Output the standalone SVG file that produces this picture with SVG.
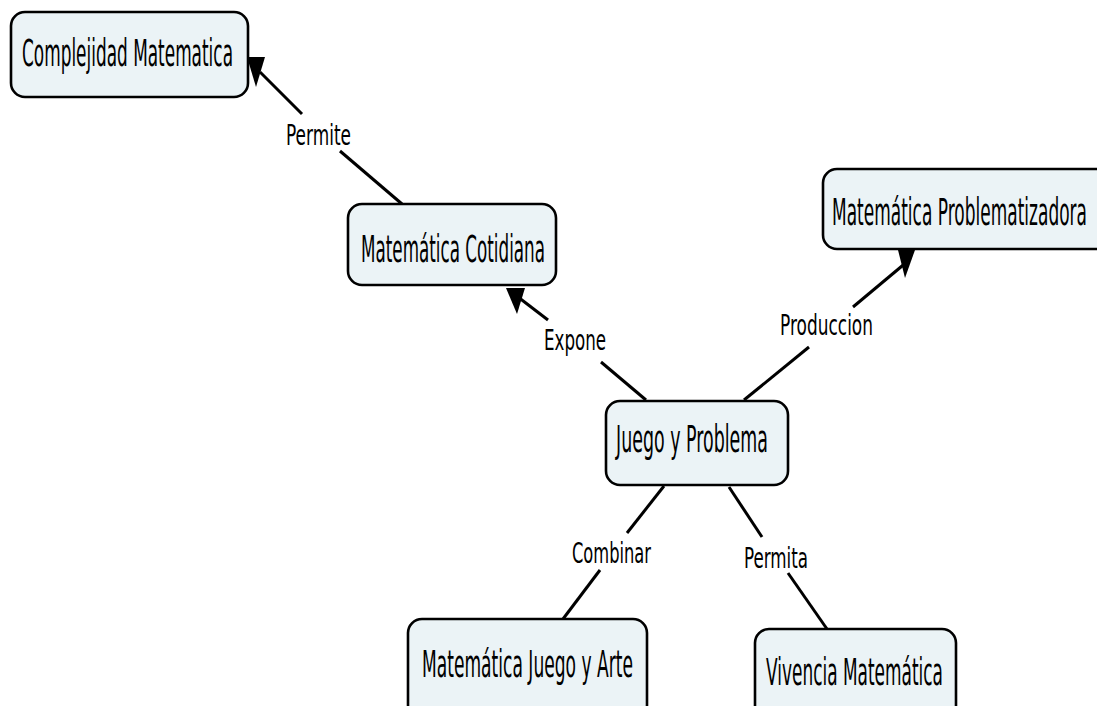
<svg xmlns="http://www.w3.org/2000/svg" width="1097" height="706" viewBox="0 0 1097 706">
<style>
.box{fill:#ebf3f6;stroke:#000;stroke-width:2.6}
.nt{font-family:"DejaVu Sans",Verdana,sans-serif;font-size:37px;fill:#000}
.lt{font-family:"DejaVu Sans",Verdana,sans-serif;font-size:29px;fill:#000}
.ln{stroke:#000;stroke-width:3;fill:none}
.ah{fill:#000}
</style>
<rect width="1097" height="706" fill="#fff"/>
<g id="connectors">
<g id="c-permite">
<line class="ln" x1="402" y1="204" x2="340" y2="151"/>
<line class="ln" x1="302" y1="114" x2="260" y2="72"/>
<polygon class="ah" points="247,57 265,57 256,87"/>
<text class="lt" x="286" y="145" textLength="65" lengthAdjust="spacingAndGlyphs">Permite</text>
</g>
<g id="c-expone">
<line class="ln" x1="646" y1="400" x2="601" y2="362"/>
<line class="ln" x1="548" y1="320" x2="518" y2="297"/>
<polygon class="ah" points="506,288 525,288 517,314"/>
<text class="lt" x="544" y="350" textLength="62" lengthAdjust="spacingAndGlyphs">Expone</text>
</g>
<g id="c-produccion">
<line class="ln" x1="744" y1="400" x2="809" y2="347"/>
<line class="ln" x1="853" y1="307" x2="908" y2="261"/>
<polygon class="ah" points="898,250 915,250 905,278"/>
<text class="lt" x="780" y="335" textLength="93" lengthAdjust="spacingAndGlyphs">Produccion</text>
</g>
<g id="c-combinar">
<line class="ln" x1="664" y1="486" x2="627" y2="533"/>
<line class="ln" x1="600" y1="570" x2="563" y2="619"/>
<text class="lt" x="572" y="563" textLength="79" lengthAdjust="spacingAndGlyphs">Combinar</text>
</g>
<g id="c-permita">
<line class="ln" x1="729" y1="487" x2="762" y2="537"/>
<line class="ln" x1="788" y1="573" x2="827" y2="629"/>
<text class="lt" x="744" y="568" textLength="64" lengthAdjust="spacingAndGlyphs">Permita</text>
</g>
</g>
<g id="n-complejidad">
<rect class="box" x="11" y="12" width="237" height="85" rx="14"/>
<text class="nt" x="22" y="66" textLength="211" lengthAdjust="spacingAndGlyphs">Complejidad Matematica</text>
</g>
<g id="n-cotidiana">
<rect class="box" x="348" y="204" width="208" height="81" rx="14"/>
<text class="nt" x="361" y="262" textLength="184" lengthAdjust="spacingAndGlyphs">Matemática Cotidiana</text>
</g>
<g id="n-problematizadora">
<rect class="box" x="823" y="169" width="300" height="80" rx="14"/>
<text class="nt" x="832" y="225" textLength="255" lengthAdjust="spacingAndGlyphs">Matemática Problematizadora</text>
</g>
<g id="n-juego">
<rect class="box" x="606" y="401" width="182" height="84" rx="14"/>
<text class="nt" x="616" y="452" textLength="152" lengthAdjust="spacingAndGlyphs">Juego y Problema</text>
</g>
<g id="n-juegoarte">
<rect class="box" x="408" y="619" width="239" height="100" rx="14"/>
<text class="nt" x="422" y="677" textLength="211" lengthAdjust="spacingAndGlyphs">Matemática Juego y Arte</text>
</g>
<g id="n-vivencia">
<rect class="box" x="755" y="629" width="201" height="100" rx="14"/>
<text class="nt" x="766" y="685" textLength="177" lengthAdjust="spacingAndGlyphs">Vivencia Matemática</text>
</g>
</svg>
